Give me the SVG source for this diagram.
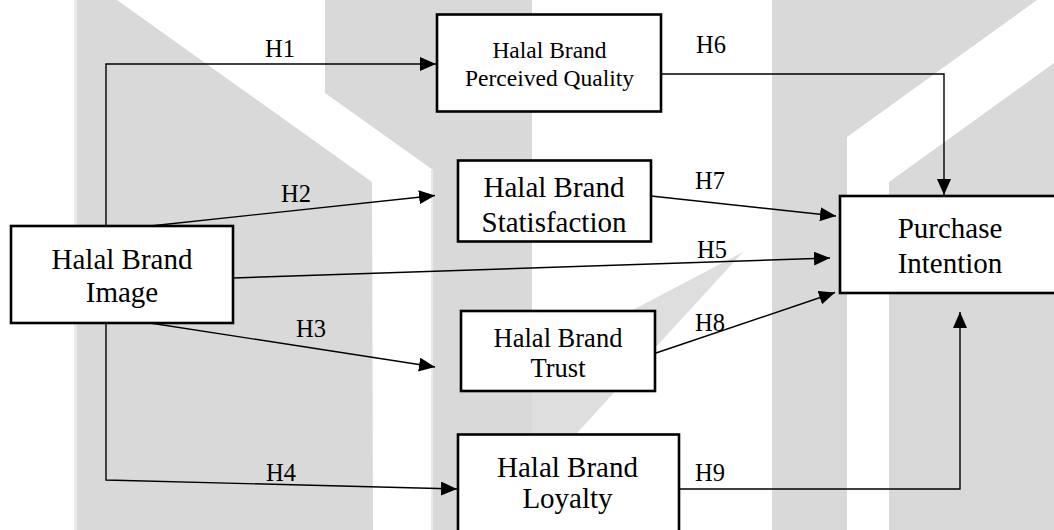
<svg xmlns="http://www.w3.org/2000/svg" width="1054" height="530" viewBox="0 0 1054 530">
<style>
.wm{fill:#d9d9d9;stroke:none}
.node rect{fill:#fff;stroke:#000;stroke-width:2.6}
.t{font-family:"Liberation Serif","Times New Roman",serif;fill:#000;text-anchor:middle}
.lbl{font-family:"Liberation Serif","Times New Roman",serif;font-size:24.5px;fill:#000;text-anchor:middle}
.c{fill:none;stroke:#000;stroke-width:1.4}
</style>
<defs>
<marker id="ah" markerUnits="userSpaceOnUse" markerWidth="16" markerHeight="14" refX="16" refY="7" orient="auto">
<path d="M0,0 L16,7 L0,14 Z" fill="#000"/>
</marker>
</defs>
<rect x="0" y="0" width="1054" height="530" fill="#fff"/>
<g id="watermark">
<polygon class="wm" points="77,0 117,0 372,182 373,530 77,530"/>
<polygon class="wm" points="325,0 532,0 532,530 433,530 433,170 325,93"/>
<polygon class="wm" points="772,0 1037,0 847,137 847,530 772,530"/>
<polygon class="wm" points="1054,63 889,182 889,530 1054,530"/>
<polygon class="wm" points="743,252 532,363 532,482" fill="#dedede" style="fill:#dedede"/>
<rect x="74" y="0" width="3" height="530" fill="#e9e9e9"/>
<rect x="431" y="170" width="2" height="360" fill="#e9e9e9"/>
</g>
<g id="connectors">
<polyline class="c" points="106,226 106,64 436,64" marker-end="url(#ah)"/>
<line class="c" x1="150" y1="226" x2="435" y2="195.5" marker-end="url(#ah)"/>
<line class="c" x1="150" y1="323" x2="435" y2="367" marker-end="url(#ah)"/>
<polyline class="c" points="106,323 106,480 457,489" marker-end="url(#ah)"/>
<line class="c" x1="233" y1="278" x2="830" y2="258" marker-end="url(#ah)"/>
<polyline class="c" points="661,74 944,74 944,195" marker-end="url(#ah)"/>
<line class="c" x1="651" y1="196" x2="836" y2="216" marker-end="url(#ah)"/>
<line class="c" x1="656" y1="353" x2="835" y2="292.5" marker-end="url(#ah)"/>
<polyline class="c" points="679,489 960,489 960,312" marker-end="url(#ah)"/>
<text class="lbl" x="280" y="57">H1</text>
<text class="lbl" x="296" y="202">H2</text>
<text class="lbl" x="311" y="337">H3</text>
<text class="lbl" x="281" y="481">H4</text>
<text class="lbl" x="712" y="258">H5</text>
<text class="lbl" x="711" y="53">H6</text>
<text class="lbl" x="710" y="189">H7</text>
<text class="lbl" x="710" y="330.5">H8</text>
<text class="lbl" x="710" y="480.5">H9</text>
</g>
<g id="hbi" class="node">
<rect x="11" y="226" width="222" height="97"/>
<text class="t" x="122" y="269" font-size="29">Halal Brand</text>
<text class="t" x="122" y="302" font-size="29">Image</text>
</g>
<g id="hbpq" class="node">
<rect x="437" y="14.5" width="224" height="97"/>
<text class="t" x="549.5" y="58" font-size="23.5">Halal Brand</text>
<text class="t" x="549.5" y="86" font-size="23.5">Perceived Quality</text>
</g>
<g id="hbs" class="node">
<rect x="458" y="160.5" width="193" height="81"/>
<text class="t" x="554" y="197" font-size="29">Halal Brand</text>
<text class="t" x="554" y="231.5" font-size="29">Statisfaction</text>
</g>
<g id="hbt" class="node">
<rect x="461" y="311" width="194" height="80"/>
<text class="t" x="558" y="346.5" font-size="26.5">Halal Brand</text>
<text class="t" x="558" y="376.5" font-size="26.5">Trust</text>
</g>
<g id="hbl" class="node">
<rect x="458" y="434.5" width="221" height="110"/>
<text class="t" x="567.5" y="476.5" font-size="29">Halal Brand</text>
<text class="t" x="567.5" y="508" font-size="29">Loyalty</text>
</g>
<g id="pi" class="node">
<rect x="840" y="196" width="230" height="97"/>
<text class="t" x="950" y="238" font-size="29">Purchase</text>
<text class="t" x="950" y="273" font-size="29">Intention</text>
</g>
</svg>
